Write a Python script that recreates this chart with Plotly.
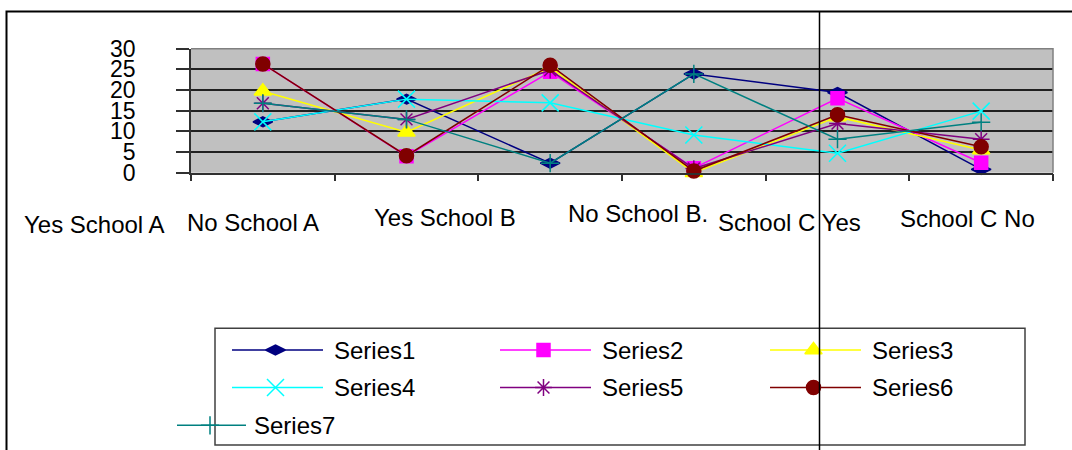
import plotly.graph_objects as go

# ---- data ----
categories = ["Yes School A", "No School A", "Yes School B",
              "No School B.", "School C Yes", "School C No"]
series_names = ["Series1", "Series2", "Series3", "Series4",
                "Series5", "Series6", "Series7"]
series1 = [12.3, 17.8, 2.3, 23.9, 19.4, 0.8]
series2 = [26.3, 4.0, 24.4, 1.1, 18.0, 2.4]
series3 = [19.7, 9.8, 25.5, 0.0, 13.5, 5.5]
series4 = [12.3, 17.8, 16.9, 9.1, 4.7, 14.9]
series5 = [16.8, 12.9, 24.8, 1.0, 11.9, 8.1]
series6 = [26.3, 4.1, 26.0, 0.4, 14.0, 6.3]
series7 = [16.8, 12.9, 2.3, 23.9, 8.1, 12.2]
y_ticks = [0, 5, 10, 15, 20, 25, 30]

series_values = [series1, series2, series3, series4, series5, series6, series7]

# ---- styles ----
W, H = 1072, 450
FONT = "Arial, Liberation Sans, sans-serif"
colors = ["#000080", "#FF00FF", "#FFFF00", "#00FFFF", "#800080", "#800000", "#008080"]
symbols = ["diamond-wide", "square", "triangle-up", "x-thin-open",
           "asterisk-open", "circle", "cross-thin-open"]
sizes = [14, 13, 15, 17, 14, 14, 13]

# plot-area box in pixels
PX0, PX1, PY0, PY1 = 191, 1053, 48.7, 172.7

fig = go.Figure()

for name, vals, col, sym, sz in zip(series_names, series_values, colors, symbols, sizes):
    fig.add_trace(go.Scatter(
        x=categories, y=vals, name=name, mode="lines+markers",
        line=dict(color=col, width=1.5),
        marker=dict(symbol=sym, size=sz, color=col, line=dict(color=col, width=1.5)),
        showlegend=False, xaxis="x", yaxis="y", cliponaxis=False,
    ))

# ---- hand-drawn legend on a pixel overlay axis ----
col_starts = [232, 500, 770]
row_ys = [350, 387.5]
legend_items = []
for i in range(6):
    legend_items.append((col_starts[i % 3], row_ys[i // 3]))
legend_items.append((177, 425.3))  # Series7 entry sits off the grid
line_lengths = [91, 91, 91, 91, 91, 91, 69]
marker_offsets = [43.5, 43.5, 43.5, 43.5, 43.5, 43.5, 33]
text_gaps = [100, 100, 100, 100, 100, 100, 75]

annotations = []
for k, (name, col, sym, sz) in enumerate(zip(series_names, colors, symbols, sizes)):
    x0, yy = legend_items[k]
    fig.add_trace(go.Scatter(
        x=[x0, x0 + line_lengths[k]], y=[yy, yy], mode="lines",
        line=dict(color=col, width=1.5), showlegend=False,
        xaxis="x2", yaxis="y2", hoverinfo="skip"))
    fig.add_trace(go.Scatter(
        x=[x0 + marker_offsets[k]], y=[yy], mode="markers",
        marker=dict(symbol=sym, size=sz, color=col, line=dict(color=col, width=1.5)),
        showlegend=False, xaxis="x2", yaxis="y2", hoverinfo="skip"))
    annotations.append(dict(
        x=x0 + text_gaps[k], y=yy, xref="x2", yref="y2", text=name,
        showarrow=False, xanchor="left", yanchor="middle",
        font=dict(family=FONT, size=24, color="black")))

# category captions below the axis
label_pos = [(94.5, 224.8), (253, 222.5), (445, 217.5),
             (637.5, 213.5), (789, 222.5), (967.5, 218.5)]
for text, (lx, ly) in zip(categories, label_pos):
    annotations.append(dict(
        x=lx, y=ly, xref="x2", yref="y2", text=text, showarrow=False,
        xanchor="center", yanchor="middle",
        font=dict(family=FONT, size=24, color="black")))

shapes = [
    # plot area fill
    dict(type="rect", xref="x domain", yref="y domain", x0=0, x1=1, y0=0, y1=1,
         fillcolor="#C0C0C0", line=dict(width=0), layer="below"),
    # top and right edge of plot area
    dict(type="path", xref="x2", yref="y2",
         path=f"M {PX0},{PY0} L {PX1},{PY0} L {PX1},{PY1}",
         line=dict(color="#808080", width=1.5), layer="above"),
    # outer chart frame
    dict(type="path", xref="x2", yref="y2",
         path="M 6.5,460 L 6.5,11.5 L 1080,11.5",
         line=dict(color="#000000", width=2), layer="above"),
    # legend box
    dict(type="rect", xref="x2", yref="y2", x0=215, x1=1025, y0=328.3, y1=445,
         line=dict(color="#404040", width=1.5), layer="below"),
    # vertical rule
    dict(type="line", xref="x2", yref="y2", x0=819.5, x1=819.5, y0=11, y1=460,
         line=dict(color="#000000", width=1.5), layer="above"),
]

fig.update_layout(
    width=W, height=H, autosize=False,
    margin=dict(l=0, r=0, t=0, b=0, pad=0, autoexpand=False),
    paper_bgcolor="white", plot_bgcolor="rgba(0,0,0,0)",
    showlegend=False,
    font=dict(family=FONT, color="black"),
    xaxis=dict(
        domain=[PX0 / W, PX1 / W], anchor="y",
        type="category", range=[-0.5, 5.5], tickson="boundaries",
        ticks="outside", ticklen=7, tickwidth=1.5, tickcolor="#303030",
        showticklabels=False, showgrid=False, zeroline=False,
        showline=True, linecolor="#303030", linewidth=1.5, fixedrange=True,
        automargin=False,
    ),
    yaxis=dict(
        domain=[1 - PY1 / H, 1 - PY0 / H], anchor="x",
        range=[0, 30], tickvals=y_ticks, ticktext=[str(v) for v in y_ticks],
        ticks="outside", ticklen=13, tickwidth=1.5, tickcolor="#303030",
        ticklabelstandoff=36,
        tickfont=dict(family=FONT, size=23, color="black"),
        showgrid=True, gridcolor="#202020", gridwidth=1.5,
        zeroline=False, showline=True, linecolor="#303030", linewidth=1.5,
        fixedrange=True, automargin=False,
    ),
    xaxis2=dict(domain=[0, 1], range=[0, W], anchor="y2", visible=False,
                fixedrange=True, automargin=False),
    yaxis2=dict(domain=[0, 1], range=[H, 0], anchor="x2", visible=False,
                fixedrange=True, automargin=False),
    shapes=shapes,
    annotations=annotations,
)

fig.write_html("out.html")
